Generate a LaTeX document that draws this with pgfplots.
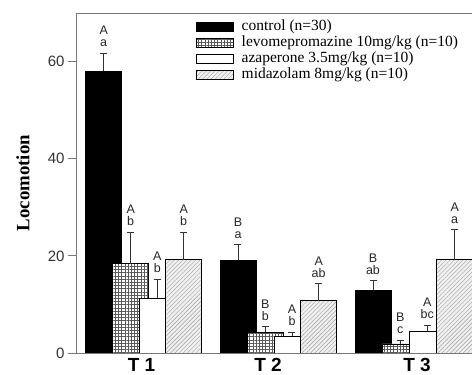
\documentclass[border=0pt]{standalone}
\usepackage{fontspec}
\setmainfont{Liberation Sans}
\newfontfamily\timesfont{Liberation Serif}
\usepackage{pgfplots}
\pgfplotsset{compat=1.18}
\usetikzlibrary{patterns,patterns.meta}
\definecolor{axgray}{RGB}{120,120,120}
\pgfplotsset{
  mybar/.style={ybar, bar shift=0pt, bar width=36, line width=0.5pt,
    legend image code/.code={\draw[##1] (0pt,-4pt) rectangle (37pt,4.5pt); \path (44pt,0pt);},
    error bars/.cd, y dir=plus, y explicit,
    error bar style={black!80, line width=0.6pt},
    error mark options={rotate=90, mark size=3.5pt, line width=0.6pt, black!80},
    /pgfplots/.cd},
}
\begin{document}
\begin{tikzpicture}
\begin{axis}[
  at={(0,0)}, anchor=south west,
  scale only axis, width=396pt, height=340pt,
  xmin=76, xmax=472, ymin=0, ymax=70,
  axis x line=box, axis y line=left,
  axis line style={-, axgray, line width=0.7pt},
  ytick={0,20,40,60}, ytick pos=left, tick align=outside,
  major tick length=8pt, ytick style={axgray, line width=0.7pt},
  xtick={141.5,268,417}, xticklabels={T 1,T 2,T 3}, xtick style={draw=none},
  xticklabel style={font=\fontsize{19}{19}\selectfont\bfseries, anchor=north, yshift=3pt, inner sep=0pt},
  yticklabel style={font=\fontsize{15}{15}\selectfont, text=black!80},
  /pgf/number format/assume math mode=true,
  ylabel={Locomotion},
  ylabel style={font=\timesfont\bfseries\fontsize{18.8}{18.8}\selectfont,
    at={(axis description cs:-0.134,0.5)}, anchor=center},
  legend style={at={(axis description cs:0.296,0.988)}, anchor=north west,
    draw=none, fill=none, font=\timesfont\fontsize{15.5}{15.5}\selectfont,
    row sep=0pt, nodes={inner sep=0.8pt, text height=10.7pt, text depth=3.6pt}},
  legend cell align=left,
]
\addplot[mybar, fill=black, draw=black] coordinates {
  (103.7,58.0) += (0,3.8)
  (238.0,19.1) += (0,3.2)
  (373.0,12.9) += (0,2.0)
};
\addlegendentry{control (n=30)}
\addplot[mybar, fill=white, draw=black,
  postaction={pattern={Hatch[angle=0,distance=3.2pt,line width=0.35pt]}, pattern color=black!65}] coordinates {
  (130.7,18.4) += (0,6.5)
  (265.3,4.3) += (0,1.1)
  (400.3,1.9) += (0,0.8)
};
\addlegendentry{levomepromazine 10mg/kg (n=10)}
\addplot[mybar, fill=white, draw=black] coordinates {
  (157.3,11.3) += (0,3.9)
  (292.0,3.4) += (0,0.9)
  (427.3,4.5) += (0,1.2)
};
\addlegendentry{azaperone 3.5mg/kg (n=10)}
\addplot[mybar, fill=gray!12, draw=black,
  postaction={pattern={Lines[angle=45,distance=3pt,line width=0.4pt]}, pattern color=gray!75}] coordinates {
  (183.7,19.2) += (0,5.7)
  (318.7,10.8) += (0,3.5)
  (454.7,19.2) += (0,6.2)
};
\addlegendentry{midazolam 8mg/kg (n=10)}
\addplot[draw=none, mark=none, forget plot, point meta=explicit symbolic,
  nodes near coords,
  nodes near coords style={font=\fontsize{12.5}{12}\selectfont, align=center,
    anchor=south, yshift=6pt, inner sep=0pt, text=black!85}] coordinates {
  (103.7,61.8) [A\\a]
  (130.7,24.9) [A\\b]
  (157.3,15.2) [A\\b]
  (183.7,24.9) [A\\b]
  (238.0,22.3) [B\\a]
  (265.3,5.4) [B\\b]
  (292.0,4.3) [A\\b]
  (318.7,14.3) [A\\ab]
  (373.0,14.9) [B\\ab]
  (400.3,2.7) [B\\c]
  (427.3,5.7) [A\\bc]
  (454.7,25.4) [A\\a]
};
\end{axis}
\pgfresetboundingbox
\path[use as bounding box] ([xshift=-76pt,yshift=-22pt]current axis.south west)
  rectangle ([yshift=13pt]current axis.north east);
\end{tikzpicture}
\end{document}
